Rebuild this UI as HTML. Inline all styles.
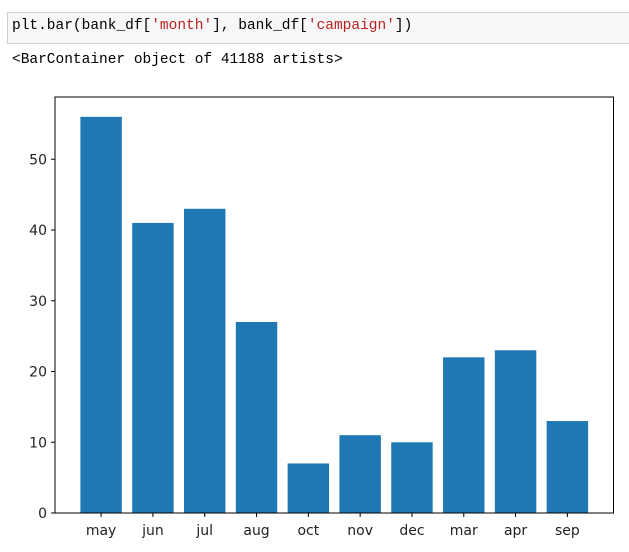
<!DOCTYPE html>
<html><head><meta charset="utf-8"><style>
body{margin:0;width:629px;height:552px;background:#fff;position:relative;overflow:hidden;font-family:"Liberation Mono",monospace;}
#cell{position:absolute;left:7px;top:12px;width:630px;height:32px;background:#f7f7f7;border:1px solid #cfcfcf;box-sizing:border-box;}
#code{position:absolute;left:12px;top:18px;font-size:14.5px;color:#000;white-space:pre;}
.s{color:#ba2121}
#out{position:absolute;left:12px;top:52px;font-size:14.5px;white-space:pre;}
svg{position:absolute;left:0;top:0}
</style></head><body>
<div id="cell"></div>
<div id="code">plt.bar(bank_df[<span class="s">'month'</span>], bank_df[<span class="s">'campaign'</span>])</div>
<div id="out">&lt;BarContainer object of 41188 artists&gt;</div>
<svg id="chart" width="629" height="552"></svg>
<script>
const categories=["may","jun","jul","aug","oct","nov","dec","mar","apr","sep"];
const values=[56,41,43,27,7,11,10,22,23,13];
const yTicks=[0,10,20,30,40,50];
const L=55,R=613.5,T=97,B=513;
const xmin=-0.89,xmax=9.89,ymax=58.8;
const xs=i=>L+(i-xmin)/(xmax-xmin)*(R-L);
const ys=v=>B-v/ymax*(B-T);
const svg=document.getElementById('chart');
const NS='http://www.w3.org/2000/svg';
function mk(t,a){const e=document.createElementNS(NS,t);for(const k in a)e.setAttribute(k,a[k]);svg.appendChild(e);return e;}
const bw=xs(0.8)-xs(0);
categories.forEach((c,i)=>{
  const r=mk('rect',{x:xs(i)-bw/2,y:ys(values[i]),width:bw,height:B-ys(values[i]),fill:'#1f77b4'});
  
  
  const t=mk('line',{x1:xs(i),x2:xs(i),y1:B,y2:B+4,stroke:'#000','stroke-width':1});
  
  
  const l=mk('text',{x:xs(i),y:B+22,'text-anchor':'middle','font-family':'DejaVu Sans, sans-serif','font-size':'14',fill:'#222'});
  l.textContent=c;
  
  
});
yTicks.forEach(v=>{
  const t=mk('line',{x1:L-4,x2:L,y1:ys(v),y2:ys(v),stroke:'#000','stroke-width':1});
  
  
  const l=mk('text',{x:L-8,y:ys(v)+5,'text-anchor':'end','font-family':'DejaVu Sans, sans-serif','font-size':'14',fill:'#222'});
  l.textContent=v;
  
  
});
const f=mk('rect',{x:L,y:T,width:R-L,height:B-T,fill:'none',stroke:'#000','stroke-width':1});


</script>
</body></html>
